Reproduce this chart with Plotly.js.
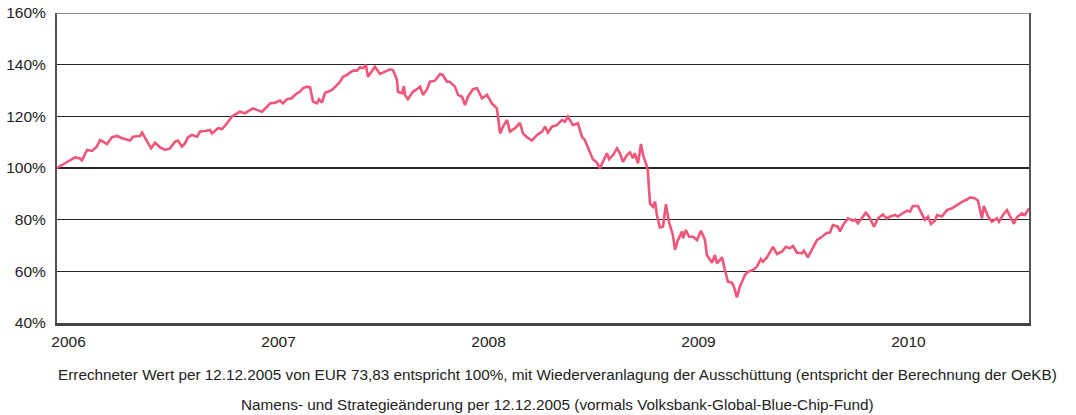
<!DOCTYPE html>
<html>
<head>
<meta charset="utf-8">
<script src="https://cdn.plot.ly/plotly-3.0.1.min.js"></script>
<style>
  html, body { margin: 0; padding: 0; background: #ffffff; }
  #chart { width: 1076px; height: 415px; }
</style>
</head>
<body>
<div id="chart"></div>
<script>
// Time positions as decimal years (start 12.12.2005 = 100%)
const yearPos2006 = [2005.945,2005.983,2006.007,2006.031,2006.055,2006.064,2006.088,2006.112,2006.135,2006.150,2006.164,2006.183,2006.207,2006.231,2006.255,2006.293,2006.307,2006.340,2006.350,2006.374,2006.393,2006.412,2006.436,2006.459,2006.483,2006.507,2006.521,2006.540,2006.555,2006.569,2006.588,2006.612,2006.626,2006.650,2006.674,2006.683,2006.712,2006.731,2006.755,2006.778,2006.802,2006.816,2006.840,2006.864,2006.878,2006.897,2006.921];
const value2006   = [100.0,102.0,103.0,104.1,103.7,103.0,107.0,106.6,108.3,110.8,110.2,109.3,111.9,112.4,111.5,110.6,112.1,112.4,113.7,110.2,107.6,109.8,108.0,107.0,107.6,110.2,110.6,108.3,109.6,111.9,112.8,112.1,114.1,114.3,114.7,113.4,115.4,115.1,117.3,119.9,121.2,121.8,121.2,122.5,123.1,122.5,121.8];

const yearPos2007 = [2006.945,2006.959,2006.983,2007.007,2007.021,2007.040,2007.064,2007.069,2007.088,2007.102,2007.116,2007.135,2007.150,2007.164,2007.183,2007.193,2007.207,2007.221,2007.235,2007.255,2007.278,2007.293,2007.307,2007.326,2007.340,2007.355,2007.374,2007.388,2007.402,2007.416,2007.426,2007.445,2007.459,2007.483,2007.507,2007.531,2007.545,2007.564,2007.569,2007.588,2007.597,2007.602,2007.616,2007.640,2007.659,2007.674,2007.688,2007.707,2007.721,2007.745,2007.769,2007.783,2007.802,2007.816,2007.840,2007.855,2007.874,2007.888,2007.902,2007.926,2007.945,2007.969,2007.993];
const value2007   = [123.7,125.0,125.3,126.1,125.0,126.6,127.0,127.6,128.9,129.5,130.8,131.5,131.2,125.7,125.0,126.6,125.3,129.1,129.5,130.2,132.1,133.4,135.3,136.0,136.9,137.7,137.7,139.0,138.6,139.9,135.3,137.7,139.2,136.4,137.3,138.2,137.9,134.1,129.5,128.9,131.7,128.3,126.6,129.5,130.5,131.5,128.3,130.5,133.4,133.8,136.4,136.0,133.4,133.4,131.5,128.3,127.6,124.4,127.6,130.5,130.9,127.0,128.3];

const yearPos2008 = [2008.016,2008.040,2008.055,2008.069,2008.088,2008.102,2008.126,2008.150,2008.164,2008.183,2008.207,2008.231,2008.255,2008.269,2008.283,2008.302,2008.326,2008.350,2008.364,2008.378,2008.402,2008.426,2008.445,2008.459,2008.478,2008.497,2008.516,2008.531,2008.545,2008.564,2008.574,2008.593,2008.612,2008.626,2008.640,2008.659,2008.674,2008.688,2008.697,2008.712,2008.726,2008.736,2008.755,2008.759,2008.769,2008.783,2008.793,2008.802,2008.816,2008.831,2008.845,2008.859,2008.878,2008.888,2008.902,2008.921,2008.926,2008.940,2008.955,2008.974,2008.993];
const value2008   = [125.0,123.1,113.4,116.0,118.6,114.1,115.4,117.5,113.4,111.9,110.6,112.8,114.1,116.0,113.7,116.0,116.6,118.6,117.9,119.9,116.6,117.3,112.1,110.8,107.0,103.4,102.1,99.9,102.4,105.7,103.4,105.0,107.6,105.7,102.4,105.0,106.0,103.8,105.7,101.8,109.3,105.0,100.5,98.6,86.3,85.0,87.0,81.8,77.0,77.3,86.0,79.2,74.1,68.3,72.1,75.4,72.8,76.0,73.4,73.4,72.1];

const yearPos2009 = [2009.012,2009.031,2009.040,2009.064,2009.078,2009.088,2009.112,2009.126,2009.140,2009.159,2009.169,2009.183,2009.197,2009.221,2009.235,2009.259,2009.278,2009.297,2009.307,2009.326,2009.355,2009.374,2009.397,2009.416,2009.435,2009.450,2009.469,2009.493,2009.502,2009.521,2009.540,2009.564,2009.588,2009.612,2009.626,2009.640,2009.664,2009.674,2009.688,2009.712,2009.736,2009.745,2009.759,2009.778,2009.797,2009.812,2009.836,2009.855,2009.878,2009.897,2009.912,2009.936,2009.950,2009.969,2009.993];
const value2009   = [75.7,72.1,66.3,63.3,66.3,63.1,65.4,60.5,56.0,55.6,54.0,49.9,54.0,58.6,59.8,60.5,61.8,64.7,63.7,65.4,69.5,66.7,67.6,69.5,68.9,69.8,67.2,67.0,68.0,65.4,68.5,72.1,73.4,74.9,75.0,77.9,77.3,75.4,77.9,80.5,79.6,80.1,78.6,80.5,82.7,81.2,77.3,80.5,82.0,80.5,81.2,81.8,81.2,82.3,83.5];

const yearPos2010 = [2010.007,2010.021,2010.045,2010.064,2010.078,2010.093,2010.107,2010.126,2010.136,2010.159,2010.183,2010.207,2010.231,2010.255,2010.278,2010.293,2010.316,2010.331,2010.350,2010.359,2010.378,2010.397,2010.421,2010.431,2010.450,2010.469,2010.483,2010.502,2010.516,2010.540,2010.555,2010.574];
const value2010   = [83.1,85.3,85.3,81.8,79.9,81.2,78.4,79.6,81.8,81.2,83.7,84.4,85.7,86.9,87.8,88.6,88.3,87.3,80.5,85.3,81.4,79.2,80.5,79.2,81.8,83.7,81.4,78.4,80.9,82.4,81.8,84.4];

const yearTicks = [2006, 2007, 2008, 2009, 2010];
const yearLabels = ['2006', '2007', '2008', '2009', '2010'];
const pctTicks = [40, 60, 80, 100, 120, 140, 160];

const captionLines = [
  'Errechneter Wert per 12.12.2005 von EUR 73,83 entspricht 100%, mit Wiederveranlagung der Ausschüttung (entspricht der Berechnung der OeKB)',
  'Namens- und Strategieänderung per 12.12.2005 (vormals Volksbank-Global-Blue-Chip-Fund)'
];

const xs = [].concat(yearPos2006, yearPos2007, yearPos2008, yearPos2009, yearPos2010);
const ys = [].concat(value2006, value2007, value2008, value2009, value2010);

const FONT = '"Liberation Sans", Arial, sans-serif';

const trace = {
  x: xs, y: ys, type: 'scatter', mode: 'lines',
  line: { color: '#ef5679', width: 2.6 },
  hoverinfo: 'skip'
};

const layout = {
  width: 1076, height: 415,
  margin: { l: 57, r: 47, t: 13, b: 92 },
  paper_bgcolor: '#ffffff', plot_bgcolor: '#ffffff',
  showlegend: false,
  font: { family: FONT, size: 15, color: '#222222' },
  xaxis: {
    range: [2005.945, 2010.574],
    tickvals: yearTicks, ticktext: yearLabels,
    showgrid: false, zeroline: false,
    showline: true, linecolor: '#444444', linewidth: 2.5,
    ticks: 'outside', ticklen: 3, tickcolor: 'rgba(0,0,0,0)',
    tickfont: { family: FONT, size: 15.5, color: '#222222' }
  },
  yaxis: {
    range: [40, 160],
    tickvals: pctTicks, ticktext: pctTicks.map(v => v + '%'),
    showgrid: true, gridcolor: '#262626', gridwidth: 1.1,
    zeroline: false,
    showline: true, linecolor: '#555555', linewidth: 2, mirror: true,
    ticks: 'outside', ticklen: 6, tickcolor: 'rgba(0,0,0,0)',
    tickfont: { family: FONT, size: 15.5, color: '#222222' }
  },
  shapes: [{
    type: 'line', xref: 'paper', yref: 'y', x0: 0, x1: 1, y0: 160, y1: 160,
    line: { color: '#262626', width: 1.1 }
  }],
  annotations: [
    { text: captionLines[0], xref: 'paper', yref: 'paper', x: 0.5154, y: -0.1677,
      xanchor: 'center', yanchor: 'middle', showarrow: false,
      font: { family: FONT, size: 15.3, color: '#222222' } },
    { text: captionLines[1], xref: 'paper', yref: 'paper', x: 0.5154, y: -0.2613,
      xanchor: 'center', yanchor: 'middle', showarrow: false,
      font: { family: FONT, size: 15.3, color: '#222222' } }
  ]
};

Plotly.newPlot('chart', [trace], layout, { displayModeBar: false, staticPlot: true });
</script>
</body>
</html>
